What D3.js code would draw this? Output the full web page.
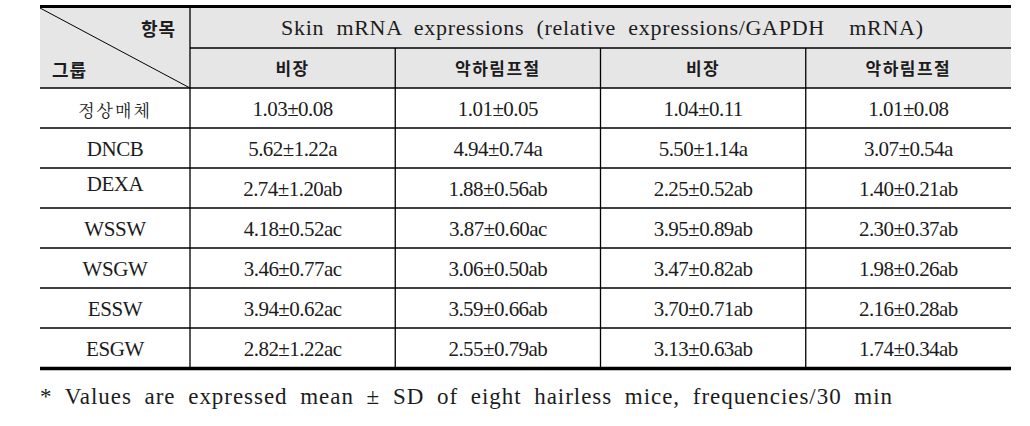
<!DOCTYPE html>
<html><head><meta charset="utf-8">
<script src="https://cdn.jsdelivr.net/npm/d3@7"></script>
<style>body{margin:0;background:#fff;}svg{display:block;}</style>
</head><body>
<svg id="c" width="1030" height="426"></svg>
<script>
const groups = ["정상매체","DNCB","DEXA","WSSW","WSGW","ESSW","ESGW"];
const columnLabels = ["비장","악하림프절","비장","악하림프절"];
const headerTitle = "Skin mRNA expressions (relative expressions/GAPDH\u00a0\u00a0mRNA)";
const cornerTop = "항목", cornerBottom = "그룹";
const footnote = "* Values are expressed mean ± SD of eight hairless mice, frequencies/30 min";

const mean1 = ["1.03","5.62","2.74","4.18","3.46","3.94","2.82"];
const sd1   = ["0.08","1.22","1.20","0.52","0.77","0.62","1.22"];
const sig1  = ["","a","ab","ac","ac","ac","ac"];
const mean2 = ["1.01","4.94","1.88","3.87","3.06","3.59","2.55"];
const sd2   = ["0.05","0.74","0.56","0.60","0.50","0.66","0.79"];
const sig2  = ["","a","ab","ac","ab","ab","ab"];
const mean3 = ["1.04","5.50","2.25","3.95","3.47","3.70","3.13"];
const sd3   = ["0.11","1.14","0.52","0.89","0.82","0.71","0.63"];
const sig3  = ["","a","ab","ab","ab","ab","ab"];
const mean4 = ["1.01","3.07","1.40","2.30","1.98","2.16","1.74"];
const sd4   = ["0.08","0.54","0.21","0.37","0.26","0.28","0.34"];
const sig4  = ["","a","ab","ab","ab","ab","ab"];

const cols = [[mean1,sd1,sig1],[mean2,sd2,sig2],[mean3,sd3,sig3],[mean4,sd4,sig4]];

const svg = d3.select("#c");
const L = 40, R = 1011, C0 = 190;
const serif = "'Liberation Serif','Noto Serif CJK KR',serif";
const krSerif = "'Noto Serif CJK KR',serif";
const krSans = "'Noto Sans CJK KR',sans-serif";
const ink = "#1c1c1c";

const rowKeys = ["h1","h2"].concat(groups);
const y = d3.scaleBand().domain(rowKeys).range([8, 368]);
const x = d3.scaleBand().domain(d3.range(4)).range([C0, R]);
const cy = k => y(k) + y.bandwidth()/2;

// header background
svg.append("rect").attr("x", L).attr("y", y("h1")).attr("width", R - L)
  .attr("height", y("h2") + y.bandwidth() - y("h1")).attr("fill", "#e6e6e6");

const line = (x1,y1,x2,y2,w) => svg.append("line").attr("x1",x1).attr("y1",y1)
  .attr("x2",x2).attr("y2",y2).attr("stroke","#000").attr("stroke-width",w||1.3);

// horizontal rules
line(C0, y("h2"), R, y("h2"));
rowKeys.slice(2).forEach(k => line(L, y(k), R, y(k)));
// vertical rules
line(C0, y("h1"), C0, 368);
d3.range(1,4).forEach(i => line(x(i), y("h2"), x(i), 368));
// diagonal
line(L, y("h1"), C0, y("h2") + y.bandwidth(), 1);
// thick rules
line(L, 6.5, R, 6.5, 3);
line(L, 368.5, R, 368.5, 3.5);

// corner labels
svg.append("text").attr("x", 176).attr("y", cy("h1")).attr("dominant-baseline","central")
  .attr("text-anchor","end").attr("font-family",krSans).attr("font-weight","bold")
  .attr("font-size",18).attr("letter-spacing",1).attr("fill",ink).text(cornerTop);
svg.append("text").attr("x", 52).attr("y", cy("h2") + 1).attr("dominant-baseline","central")
  .attr("font-family",krSans).attr("font-weight","bold")
  .attr("font-size",18).attr("letter-spacing",1).attr("fill",ink).text(cornerBottom);

// header title
svg.append("text").attr("x", 281).attr("y", cy("h1")).attr("dy","0.34em")
  .attr("font-family",serif).attr("font-size",22).attr("word-spacing",6).attr("fill",ink)
  .attr("textLength", 642).attr("lengthAdjust","spacing").text(headerTitle);

// column labels
svg.selectAll(".cl").data(columnLabels).join("text")
  .attr("x",(d,i)=>x(i)+x.bandwidth()/2).attr("y", cy("h2") - 1).attr("dominant-baseline","central")
  .attr("text-anchor","middle").attr("font-family",krSans).attr("font-weight","bold")
  .attr("font-size",17).attr("letter-spacing",1.5).attr("fill",ink).text(d=>d);

// group labels
svg.selectAll(".gl").data(groups).join("text")
  .attr("x", (L + C0)/2)
  .attr("y", (d,i) => i===0 ? cy(d) + 1 : cy(d) + 1.5 + (d==="DEXA" ? -5 : 0))
  .attr("dominant-baseline", (d,i)=> i===0 ? "central" : null)
  .attr("dy", (d,i)=> i===0 ? null : "0.33em")
  .attr("text-anchor","middle")
  .attr("font-family", (d,i)=> i===0 ? krSerif : serif)
  .attr("font-size", (d,i)=> i===0 ? 17 : 21)
  .attr("letter-spacing", (d,i)=> i===0 ? 2 : -0.4)
  .attr("fill",ink).text(d=>d);

// values
cols.forEach((c,ci) => {
  svg.selectAll(".v"+ci).data(groups).join("text")
    .attr("x", x(ci) + x.bandwidth()/2).attr("y", d => cy(d) + 1.5)
    .attr("dy","0.33em").attr("text-anchor","middle")
    .attr("font-family",serif).attr("font-size",21).attr("letter-spacing",-0.55)
    .attr("fill",ink)
    .text((d,i) => c[0][i] + "±" + c[1][i] + c[2][i]);
});

// footnote
svg.append("text").attr("x", 40).attr("y", 404)
  .attr("font-family",serif).attr("font-size",23).attr("word-spacing",6).attr("fill",ink)
  .attr("textLength", 852).attr("lengthAdjust","spacing").text(footnote);
</script>
</body></html>
